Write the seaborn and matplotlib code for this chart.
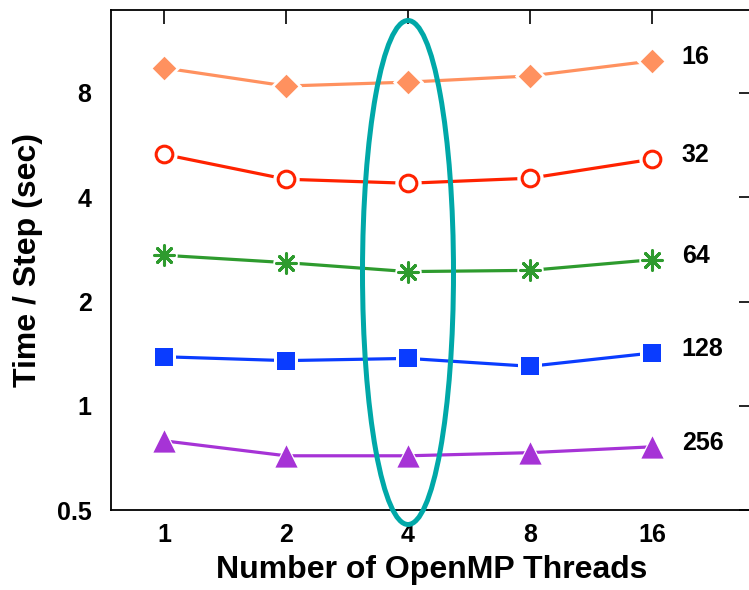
import numpy as np
import pandas as pd
import seaborn as sns
import matplotlib
matplotlib.use("Agg")
import matplotlib.pyplot as plt
from matplotlib.patches import Ellipse

# ---- data ----
threads = [1, 2, 4, 8, 16]
series_names = ["16", "32", "64", "128", "256"]
t16 = [9.45, 8.38, 8.60, 8.96, 9.90]
t32 = [5.32, 4.51, 4.39, 4.54, 5.15]
t64 = [2.72, 2.59, 2.44, 2.46, 2.64]
t128 = [1.385, 1.35, 1.37, 1.30, 1.42]
t256 = [0.792, 0.717, 0.717, 0.732, 0.761]
values = [t16, t32, t64, t128, t256]
yticks = [0.5, 1, 2, 4, 8]
ytick_labels = ["0.5", "1", "2", "4", "8"]
xtick_labels = ["1", "2", "4", "8", "16"]

colors = ["#FF915F", "#FF2200", "#2E9B2E", "#0A3CFF", "#A633D6"]
markers = ["D", "o", (8, 2, 0), "s", "^"]
msizes = [12, 14, 14, 13, 16]
faces = ["fill", "white", "none", "fill", "fill"]

rows = []
for name, vals in zip(series_names, values):
    for t, v in zip(threads, vals):
        rows.append({"threads": t, "time": v, "series": name})
df = pd.DataFrame(rows)

sns.set_style("white")
plt.rcParams["font.family"] = ["Liberation Sans", "DejaVu Sans"]
plt.rcParams["font.weight"] = "bold"
for key in ["text.color", "axes.labelcolor", "xtick.color", "ytick.color",
            "axes.edgecolor", "xtick.labelcolor", "ytick.labelcolor"]:
    plt.rcParams[key] = "black"

fig = plt.figure(figsize=(7.49, 5.90), dpi=100)
ax = fig.add_axes([111 / 749, 80 / 590, 642 / 749, 500 / 590])

ax.set_xscale("log", base=2)
ax.set_yscale("log", base=2)

for i, name in enumerate(series_names):
    sub = df[df["series"] == name]
    c = colors[i]
    sns.lineplot(data=sub, x="threads", y="time", ax=ax, color=c, lw=2.3,
                 legend=False, zorder=2)
    # white halo behind the marker creates the gap in the line
    if faces[i] in ("white", "none"):
        halo_marker, halo_size = "o", msizes[i] + 5
    else:
        halo_marker, halo_size = markers[i], msizes[i] + 4
    sns.scatterplot(data=sub, x="threads", y="time", ax=ax, marker=halo_marker,
                    s=halo_size ** 2, color="white", edgecolor="white",
                    linewidth=0, legend=False, zorder=3)
    if faces[i] == "fill":
        sns.scatterplot(data=sub, x="threads", y="time", ax=ax, marker=markers[i],
                        s=msizes[i] ** 2, color=c, edgecolor=c, linewidth=0,
                        legend=False, zorder=4)
    elif faces[i] == "white":
        sns.scatterplot(data=sub, x="threads", y="time", ax=ax, marker=markers[i],
                        s=(msizes[i] - 2) ** 2, facecolor="white", edgecolor=c,
                        linewidth=2.2, legend=False, zorder=4)
    else:
        sns.scatterplot(data=sub, x="threads", y="time", ax=ax, marker=markers[i],
                        s=msizes[i] ** 2, color=c, linewidth=2.2,
                        legend=False, zorder=4)
    ax.annotate(name, xy=(threads[-1], values[i][-1]), xytext=(21.5, 3),
                textcoords="offset points", ha="left", va="center",
                fontsize=18, fontweight="bold", color="black",
                annotation_clip=False)

ax.set_xlim(2 ** (-53 / 122), 2 ** (589 / 122))
ax.set_ylim(0.5, 0.5 * 2 ** (500 / 104.25))

ax.set_xticks(threads)
ax.set_xticklabels(xtick_labels)
ax.set_yticks(yticks)
ax.set_yticklabels(ytick_labels)
ax.minorticks_off()
ax.tick_params(axis="both", which="major", direction="in", length=10, width=1.2,
               top=True, right=True, labelsize=18, colors="black")
ax.tick_params(axis="y", pad=14)
ax.tick_params(axis="x", pad=9)
for lab in ax.get_xticklabels() + ax.get_yticklabels():
    lab.set_fontweight("bold")
    lab.set_color("black")

for sp in ax.spines.values():
    sp.set_visible(True)
    sp.set_color("black")
    sp.set_linewidth(1.3)

ax.set_xlabel("Number of OpenMP Threads", fontsize=23, fontweight="bold",
              labelpad=6, color="black")
ax.set_ylabel("Time / Step (sec)", fontsize=23, fontweight="bold",
              labelpad=10, color="black")

# highlight ellipse around 4 threads (drawn in axes fraction coords)
xc_disp = ax.transData.transform((4, 1))
xc_ax = ax.transAxes.inverted().transform(xc_disp)[0]
ell = Ellipse((xc_ax, 0.475), width=91 / 642, height=504 / 500,
              transform=ax.transAxes, fill=False, edgecolor="#00A8A8",
              linewidth=3.6, clip_on=False, zorder=6)
ax.add_patch(ell)

fig.savefig("out.png", dpi=100, facecolor="white")
